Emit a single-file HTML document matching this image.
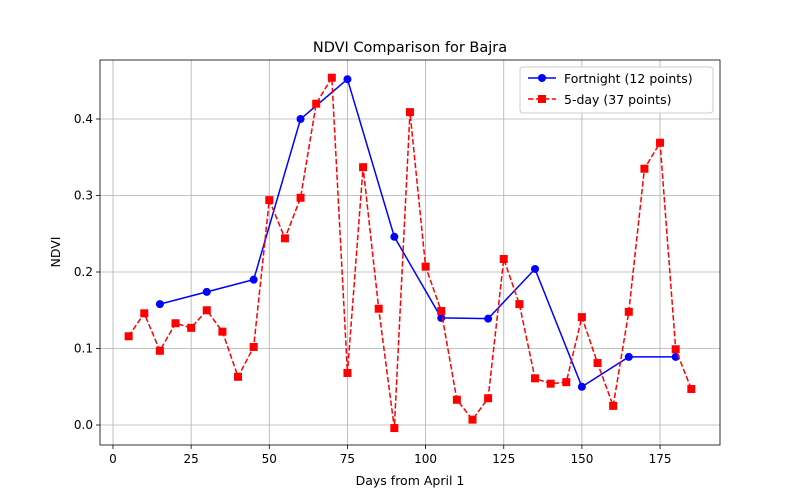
<!DOCTYPE html>
<html><head><meta charset="utf-8"><style>body{margin:0;background:#fff}svg{display:block;font-family:"DejaVu Sans","Liberation Sans",sans-serif}</style></head>
<body>
<svg id="chart" width="800" height="500"></svg>
<script>
const fortX=[15,30,45,60,75,90,105,120,135,150,165,180];
const fortY=[0.158,0.174,0.190,0.400,0.452,0.246,0.140,0.139,0.204,0.050,0.089,0.089];
const dayX=[5,10,15,20,25,30,35,40,45,50,55,60,65,70,75,80,85,90,95,100,105,110,115,120,125,130,135,140,145,150,155,160,165,170,175,180,185];
const dayY=[0.116,0.146,0.097,0.133,0.127,0.150,0.122,0.063,0.102,0.294,0.244,0.297,0.420,0.454,0.068,0.337,0.152,-0.004,0.409,0.207,0.149,0.033,0.007,0.035,0.217,0.158,0.061,0.054,0.056,0.141,0.081,0.025,0.148,0.335,0.369,0.099,0.047];
const xTicks=[0,25,50,75,100,125,150,175];
const yTicks=[0.0,0.1,0.2,0.3,0.4];
const L=100,R=720,T=60,B=445;
const sx=v=>113+v*3.126;
const sy=v=>425-v*765;
const svg=document.getElementById('chart');
const NS='http://www.w3.org/2000/svg';
function mk(tag,attrs,parent){const e=document.createElementNS(NS,tag);for(const k in attrs)e.setAttribute(k,attrs[k]);(parent||svg).appendChild(e);return e;}
const g=mk('g',{});


xTicks.forEach(t=>{mk('line',{x1:sx(t),x2:sx(t),y1:T,y2:B,stroke:'#b0b0b0','stroke-width':0.8},g);
 mk('line',{x1:sx(t),x2:sx(t),y1:B,y2:B+4,stroke:'#000','stroke-width':0.8});
 const tx=mk('text',{x:sx(t),y:B+18,'text-anchor':'middle','font-size':12});tx.textContent=t;
 
 });
yTicks.forEach(t=>{mk('line',{x1:L,x2:R,y1:sy(t),y2:sy(t),stroke:'#b0b0b0','stroke-width':0.8},g);
 mk('line',{x1:L-4,x2:L,y1:sy(t),y2:sy(t),stroke:'#000','stroke-width':0.8});
 const tx=mk('text',{x:L-7,y:sy(t)+4,'text-anchor':'end','font-size':12});tx.textContent=t.toFixed(1);
 
 });
function series(xs,ys,color,dash,marker,name){
 const p=mk('polyline',{points:xs.map((x,i)=>sx(x)+','+sy(ys[i])).join(' '),fill:'none',stroke:color,'stroke-width':1.5,'stroke-dasharray':dash});
 
 
 xs.forEach((x,i)=>{let m;
  if(marker==='o')m=mk('circle',{cx:sx(x),cy:sy(ys[i]),r:4,fill:color});
  else m=mk('rect',{x:sx(x)-4,y:sy(ys[i])-4,width:8,height:8,fill:color});
  
  });
}
series(fortX,fortY,'#0000ff','none','o','fortnight');
series(dayX,dayY,'#ff0000','5.5,2.4','s','five-day');
const frame=mk('rect',{x:L,y:T,width:R-L,height:B-T,fill:'none',stroke:'#000','stroke-width':0.8});


</script>
<svg style="position:absolute;left:0;top:0" width="800" height="500">
<text x="410" y="52" text-anchor="middle" font-size="14.5">NDVI Comparison for Bajra</text>
<text x="410" y="485" text-anchor="middle" font-size="12.5">Days from April 1</text>
<text transform="translate(60,252) rotate(-90)" text-anchor="middle" font-size="12.5">NDVI</text>
<g>
<rect x="520" y="67" width="193" height="46" rx="3" fill="#fff" fill-opacity="0.85" stroke="#ccc"/>
<g>
<line x1="528" x2="556" y1="78" y2="78" stroke="#0000ff" stroke-width="1.5"/><circle cx="542" cy="78" r="4" fill="#0000ff"/>
<text x="564" y="83" font-size="12.5">Fortnight (12 points)</text></g>
<g>
<line x1="528" x2="556" y1="99" y2="99" stroke="#ff0000" stroke-width="1.5" stroke-dasharray="5.5,2.4"/><rect x="538" y="95" width="8" height="8" fill="#ff0000"/>
<text x="564" y="104" font-size="12.5">5-day (37 points)</text></g>
</g>
</svg>
</body></html>
